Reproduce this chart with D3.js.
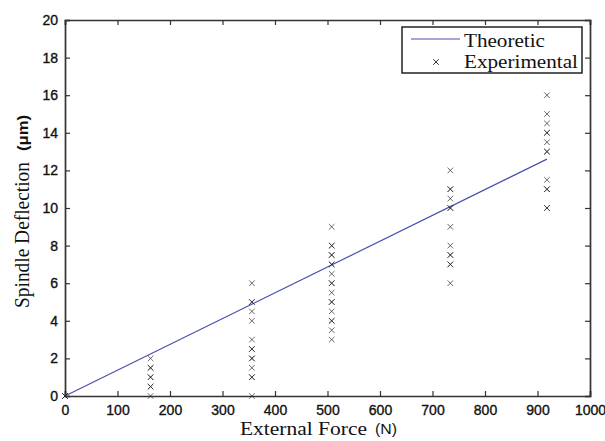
<!DOCTYPE html>
<html>
<head>
<meta charset="utf-8">
<script src="https://cdn.jsdelivr.net/npm/d3@7"></script>
<style>
  body { margin: 0; background: #fff; }
  svg { display: block; }
  .tick text { font-family: "Liberation Sans", Arial, sans-serif; font-size: 14px; fill: #111; stroke: #111; stroke-width: 0.35px; }
</style>
</head>
<body>
<div id="chart"></div>
<script>
// data
var forces = [0, 163, 356, 508, 734, 918];
var theoX = [0, 918];
var theoY = [0, 12.6];
// experimental deflections per force level (repeats make the darker marks)
var exp0 = [0, 0, 0];
var exp163 = [0, 0.5, 0.5, 1, 1, 1.5, 1.5, 2];
var exp356 = [0, 1, 1, 1.5, 2, 2, 2.5, 2.5, 3, 4, 4.5, 5, 5, 6];
var exp508 = [3, 3.5, 4, 4, 4.5, 5, 5, 5.5, 6, 6, 6.5, 7, 7, 7.5, 7.5, 8, 8, 9];
var exp734 = [6, 7, 7, 7.5, 7.5, 8, 9, 10, 10, 10.5, 11, 11, 12];
var exp918 = [10, 10, 11, 11, 11.5, 13, 13, 13.5, 14, 14, 14.5, 15, 16];
var xTicks = [0, 100, 200, 300, 400, 500, 600, 700, 800, 900, 1000];
var yTicks = [0, 2, 4, 6, 8, 10, 12, 14, 16, 18, 20];

var W = 605, H = 441;
var m = {left: 65, right: 15, top: 20, bottom: 45};
var w = W - m.left - m.right;
var h = H - m.top - m.bottom;

var svg = d3.select("#chart").append("svg")
    .attr("width", W)
    .attr("height", H);

var g = svg.append("g").attr("transform", "translate(" + m.left + "," + m.top + ")");

var x = d3.scaleLinear().domain([0, 1000]).range([0, w]);
var y = d3.scaleLinear().domain([0, 20]).range([h, 0]);

// axes with inward ticks on all four sides
var axColor = "#333";
var xb = g.append("g").attr("transform", "translate(0," + h + ")")
    .call(d3.axisBottom(x).tickValues(xTicks).tickSize(-5).tickPadding(9).tickFormat(d3.format("d")));
var xt = g.append("g")
    .call(d3.axisTop(x).tickValues(xTicks).tickSize(-5).tickFormat(""));
var yl = g.append("g")
    .call(d3.axisLeft(y).tickValues(yTicks).tickSize(-5).tickPadding(7).tickFormat(d3.format("d")));
var yr = g.append("g").attr("transform", "translate(" + w + ",0)")
    .call(d3.axisRight(y).tickValues(yTicks).tickSize(-5).tickFormat(""));

[xb, xt, yl, yr].forEach(function(a) {
    a.select(".domain").attr("stroke", axColor).attr("stroke-width", 1.7);
    a.selectAll(".tick line").attr("stroke", axColor).attr("stroke-width", 1.2);
});

// theoretic line
var line = d3.line().x(function(d) { return x(d[0]); }).y(function(d) { return y(d[1]); });
g.append("path")
    .datum(d3.zip(theoX, theoY))
    .attr("d", line)
    .attr("fill", "none")
    .attr("stroke", "#4b4fb0")
    .attr("stroke-width", 1.2);

// experimental points as x marks
var groups = [exp0, exp163, exp356, exp508, exp734, exp918];
var pts = [];
groups.forEach(function(vals, i) {
    vals.forEach(function(v) { pts.push([forces[i], v]); });
});

var s = 2.8;
function cross(cx, cy) {
    return "M" + (cx - s) + "," + (cy - s) + "L" + (cx + s) + "," + (cy + s) +
           "M" + (cx - s) + "," + (cy + s) + "L" + (cx + s) + "," + (cy - s);
}
g.append("g").selectAll("path")
    .data(pts)
    .join("path")
    .attr("d", function(d) { return cross(x(d[0]), y(d[1])); })
    .attr("stroke", "#222")
    .attr("stroke-width", 0.9)
    .attr("stroke-opacity", 0.75);

// legend
var lg = svg.append("g");
lg.append("rect")
    .attr("x", 402).attr("y", 27).attr("width", 180).attr("height", 46)
    .attr("fill", "#fff").attr("stroke", "#222").attr("stroke-width", 1.5);
lg.append("line")
    .attr("x1", 411).attr("x2", 460).attr("y1", 39).attr("y2", 39)
    .attr("stroke", "#4b4fb0").attr("stroke-width", 1.2);
lg.append("path")
    .attr("d", cross(436, 62))
    .attr("stroke", "#222").attr("stroke-width", 0.9);
lg.append("text").attr("x", 464).attr("y", 47)
    .attr("font-family", "Liberation Serif, serif").attr("font-size", 19).attr("fill", "#111")
    .attr("textLength", 81).attr("lengthAdjust", "spacingAndGlyphs")
    .text("Theoretic");
lg.append("text").attr("x", 464).attr("y", 68)
    .attr("font-family", "Liberation Serif, serif").attr("font-size", 19).attr("fill", "#111")
    .attr("textLength", 114).attr("lengthAdjust", "spacingAndGlyphs")
    .text("Experimental");

// axis titles
svg.append("text")
    .attr("x", 240).attr("y", 435)
    .attr("font-family", "Liberation Serif, serif").attr("font-size", 19).attr("fill", "#111")
    .attr("textLength", 127).attr("lengthAdjust", "spacingAndGlyphs")
    .text("External Force");
svg.append("text")
    .attr("x", 375).attr("y", 434)
    .attr("font-family", "Liberation Sans, sans-serif").attr("font-size", 14).attr("fill", "#111")
    .attr("textLength", 22).attr("lengthAdjust", "spacingAndGlyphs")
    .text("(N)");

var ylab = svg.append("g").attr("transform", "translate(29,0) rotate(-90)");
ylab.append("text")
    .attr("x", -308).attr("y", 0)
    .attr("font-family", "Liberation Serif, serif").attr("font-size", 20).attr("fill", "#111")
    .attr("textLength", 146).attr("lengthAdjust", "spacingAndGlyphs")
    .text("Spindle Deflection");
ylab.append("text")
    .attr("x", -151).attr("y", -1)
    .attr("font-family", "Liberation Sans, sans-serif").attr("font-size", 14).attr("font-weight", "bold").attr("fill", "#111")
    .attr("textLength", 36).attr("lengthAdjust", "spacingAndGlyphs")
    .text("(μm)");
</script>
</body>
</html>
